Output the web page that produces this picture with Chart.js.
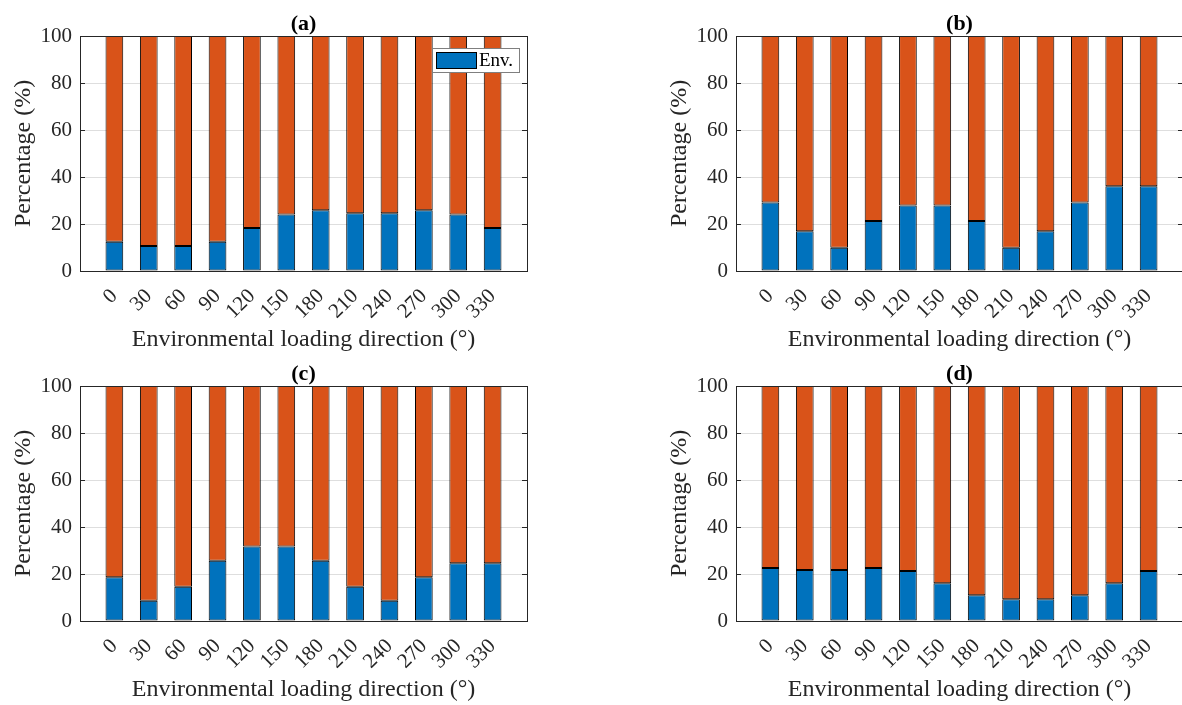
<!DOCTYPE html>
<html>
<head>
<meta charset="utf-8">
<script src="https://cdn.jsdelivr.net/npm/chart.js@4.4.1/dist/chart.umd.min.js"></script>
<style>
  html, body { margin: 0; padding: 0; background: #fff; overflow: hidden; width: 1182px; height: 705px; }
  canvas { position: absolute; }
</style>
</head>
<body>
<canvas id="pa" width="560" height="355" style="left:0px;top:0px"></canvas>
<canvas id="pb" width="560" height="355" style="left:656px;top:0px"></canvas>
<canvas id="pc" width="560" height="355" style="left:0px;top:350px"></canvas>
<canvas id="pd" width="560" height="355" style="left:656px;top:350px"></canvas>
<script>
const categories = ['0', '30', '60', '90', '120', '150', '180', '210', '240', '270', '300', '330'];
// share of the environmental loading (%), remainder is the other part
const envA = [12.5, 10.6, 10.6, 12.5, 18.3, 24.0, 25.9, 24.6, 24.6, 25.9, 24.0, 18.3];
const envB = [29.1, 16.9, 9.9, 21.3, 27.9, 27.9, 21.3, 9.9, 16.9, 29.1, 36.1, 36.1];
const envC = [18.6, 8.6, 14.6, 25.6, 31.7, 31.7, 25.6, 14.6, 8.6, 18.6, 24.6, 24.6];
const envD = [22.6, 21.7, 21.7, 22.6, 21.3, 16.1, 11.0, 9.3, 9.3, 11.0, 16.1, 21.3];
const yTicks = [0, 20, 40, 60, 80, 100];
const panelTitles = ['(a)', '(b)', '(c)', '(d)'];

const FONT = '"Liberation Serif", "Times New Roman", serif';
const TXT = '#262626';
const BLUE = '#0072BD';
const ORANGE = '#D95319';

// plot frame, inner ticks, panel title and the inside legend
const decorPlugin = {
    id: 'decor',
    beforeDatasetsDraw(chart) {
        const { ctx, chartArea: a, scales: { y } } = chart;
        ctx.save();
        ctx.strokeStyle = TXT;
        ctx.lineWidth = 1;
        yTicks.forEach(v => {
            const py = Math.round(y.getPixelForValue(v)) + 0.5;
            ctx.beginPath();
            ctx.moveTo(a.left, py); ctx.lineTo(a.left + 5, py);
            ctx.moveTo(a.right, py); ctx.lineTo(a.right - 5, py);
            ctx.stroke();
        });
        ctx.restore();
    },
    afterDatasetsDraw(chart, args, opts) {
        const { ctx, chartArea: a } = chart;
        ctx.save();
        ctx.strokeStyle = TXT;
        ctx.lineWidth = 1;
        ctx.strokeRect(Math.round(a.left) + 0.5, Math.round(a.top) + 0.5,
            Math.round(a.right - a.left), Math.round(a.bottom - a.top));

        ctx.fillStyle = '#000';
        ctx.font = 'bold 22px ' + FONT;
        ctx.textAlign = 'center';
        ctx.textBaseline = 'middle';
        ctx.fillText(opts.title, (a.left + a.right) / 2, a.top - 12);

        if (opts.legend) {
            const ds = chart.data.datasets[0];
            const w = 87, h = 24;
            const lx = a.right - 8 - w, ly = a.top + 12;
            ctx.fillStyle = '#fff';
            ctx.fillRect(lx, ly, w, h);
            ctx.strokeStyle = '#7f7f7f';
            ctx.strokeRect(lx + 0.5, ly + 0.5, w, h);
            ctx.fillStyle = ds.backgroundColor;
            ctx.fillRect(lx + 4, ly + 4, 41, 17);
            ctx.strokeStyle = '#000';
            ctx.strokeRect(lx + 4.5, ly + 4.5, 40, 16);
            ctx.fillStyle = '#000';
            ctx.font = '19px ' + FONT;
            ctx.textAlign = 'left';
            ctx.fillText(ds.label, lx + 47, ly + h / 2 + 1);
        }
        ctx.restore();
    }
};

function makePanel(canvasId, env, title, showLegend) {
    const ctx = document.getElementById(canvasId);
    const barStyle = {
        borderColor: '#000',
        borderWidth: 1,
        borderSkipped: false,
        categoryPercentage: 1,
        barPercentage: 0.515
    };
    return new Chart(ctx, {
        type: 'bar',
        data: {
            datasets: [
                Object.assign({
                    label: 'Env.',
                    data: env.map((v, i) => ({ x: i + 1, y: v })),
                    backgroundColor: BLUE
                }, barStyle),
                Object.assign({
                    label: 'Other',
                    data: env.map((v, i) => ({ x: i + 1, y: 100 - v })),
                    backgroundColor: ORANGE
                }, barStyle)
            ]
        },
        options: {
            responsive: false,
            animation: false,
            devicePixelRatio: 1,
            layout: {
                padding: { left: 0, right: 33, top: 36, bottom: 0 }
            },
            plugins: {
                legend: { display: false },
                tooltip: { enabled: false },
                title: { display: false },
                decor: { title, legend: showLegend }
            },
            scales: {
                x: {
                    type: 'linear',
                    stacked: true,
                    offset: false,
                    min: 0,
                    max: 13,
                    afterBuildTicks: (scale) => {
                        scale.ticks = categories.map((c, i) => ({ value: i + 1 }));
                    },
                    afterFit: (scale) => { scale.height = 84; },
                    grid: { display: false },
                    border: { color: TXT },
                    ticks: {
                        autoSkip: false,
                        minRotation: 45,
                        maxRotation: 45,
                        padding: 5,
                        color: TXT,
                        font: { family: FONT, size: 21 },
                        callback: (v) => categories[v - 1]
                    },
                    title: {
                        display: true,
                        text: 'Environmental loading direction (°)',
                        color: TXT,
                        padding: { top: 0, bottom: 1 },
                        font: { family: FONT, size: 24 }
                    }
                },
                y: {
                    stacked: true,
                    min: 0,
                    max: 100,
                    afterFit: (scale) => { scale.width = 80; },
                    afterBuildTicks: (scale) => {
                        scale.ticks = yTicks.map(v => ({ value: v }));
                    },
                    grid: { color: '#dedede', drawTicks: false },
                    border: { color: TXT },
                    ticks: {
                        padding: 8,
                        color: TXT,
                        font: { family: FONT, size: 21 }
                    },
                    title: {
                        display: true,
                        text: 'Percentage (%)',
                        color: TXT,
                        padding: { top: 9, bottom: 0 },
                        font: { family: FONT, size: 24 }
                    }
                }
            }
        },
        plugins: [decorPlugin]
    });
}

makePanel('pa', envA, panelTitles[0], true);
makePanel('pb', envB, panelTitles[1], false);
makePanel('pc', envC, panelTitles[2], false);
makePanel('pd', envD, panelTitles[3], false);
</script>
</body>
</html>
